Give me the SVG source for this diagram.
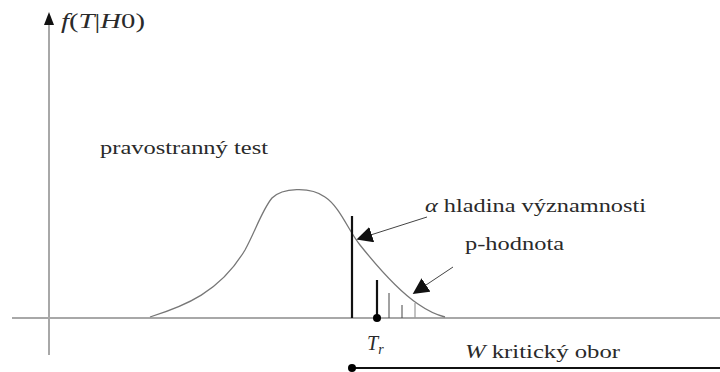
<svg xmlns="http://www.w3.org/2000/svg" width="720" height="372" viewBox="0 0 720 372">
<defs>
<style>
text{font-family:'Liberation Serif','Times New Roman',Times,Tinos,'DejaVu Serif',serif;font-size:18px;fill:#2a2a2a}
.i{font-style:italic}
.ax{stroke:#a8a8a8;stroke-width:2;fill:none}
.cv{stroke:#777;stroke-width:1.3;fill:none}
.thick{stroke:#111;stroke-width:2.2}
.thin{stroke:#444;stroke-width:1}
.arr{stroke:#444;stroke-width:1;marker-end:url(#ah)}
</style>
<marker id="ah" viewBox="0 0 10 10" refX="9" refY="5" markerWidth="16" markerHeight="16" markerUnits="userSpaceOnUse" orient="auto">
<path d="M0,0 L10,5 L0,10 Z" fill="#111"/>
</marker>
</defs>
<rect width="720" height="372" fill="#fff"/>
<g id="axes">
<line class="ax" x1="12" y1="318" x2="720" y2="318"/>
<line class="ax" x1="49" y1="355" x2="49" y2="22"/>
<path d="M44,25 L49,12 L54,25 Z" fill="#111"/>
</g>
<g id="curve">
<path class="cv" d="M150,317 C185,306 220,292 245,250 C255,232 262,210 272,198 C282,188 310,186 325,197 C340,207 348,230 360,245 C380,270 400,292 418,304 C428,311 437,315 445,317"/>
</g>
<g id="bars">
<line class="thick" x1="352" y1="216" x2="352" y2="318"/>
<line class="thick" x1="377" y1="280" x2="377" y2="318"/>
<circle cx="377" cy="318" r="4" fill="#000"/>
<line class="thin" x1="389" y1="293" x2="389" y2="318"/>
<line class="thin" x1="402" y1="305" x2="402" y2="318"/>
<line x1="415" y1="303" x2="415" y2="318" stroke="#999" stroke-width="1.2"/>
</g>
<g id="connectors">
<line class="arr" x1="427" y1="217" x2="358" y2="239"/>
<line class="arr" x1="453" y1="267" x2="414" y2="293"/>
</g>
<g id="critical">
<line x1="352" y1="368" x2="720" y2="368" stroke="#111" stroke-width="2.2"/>
<circle cx="352" cy="368" r="4" fill="#000"/>
</g>
<g id="labels">
<text x="61" y="28" style="font-size:21px" textLength="84" lengthAdjust="spacingAndGlyphs"><tspan class="i">f</tspan>(<tspan class="i">T</tspan>|<tspan class="i">H</tspan>0)</text>
<text x="100" y="154" textLength="168" lengthAdjust="spacingAndGlyphs">pravostranný test</text>
<text x="425" y="212" textLength="221" lengthAdjust="spacingAndGlyphs"><tspan class="i">α</tspan> hladina významnosti</text>
<text x="465" y="250" textLength="99" lengthAdjust="spacingAndGlyphs">p-hodnota</text>
<text class="i" x="367" y="350" style="font-size:20px">T<tspan style="font-size:14px" dy="4">r</tspan></text>
<text x="465" y="358" textLength="155" lengthAdjust="spacingAndGlyphs"><tspan class="i">W</tspan> kritický obor</text>
</g>
</svg>
